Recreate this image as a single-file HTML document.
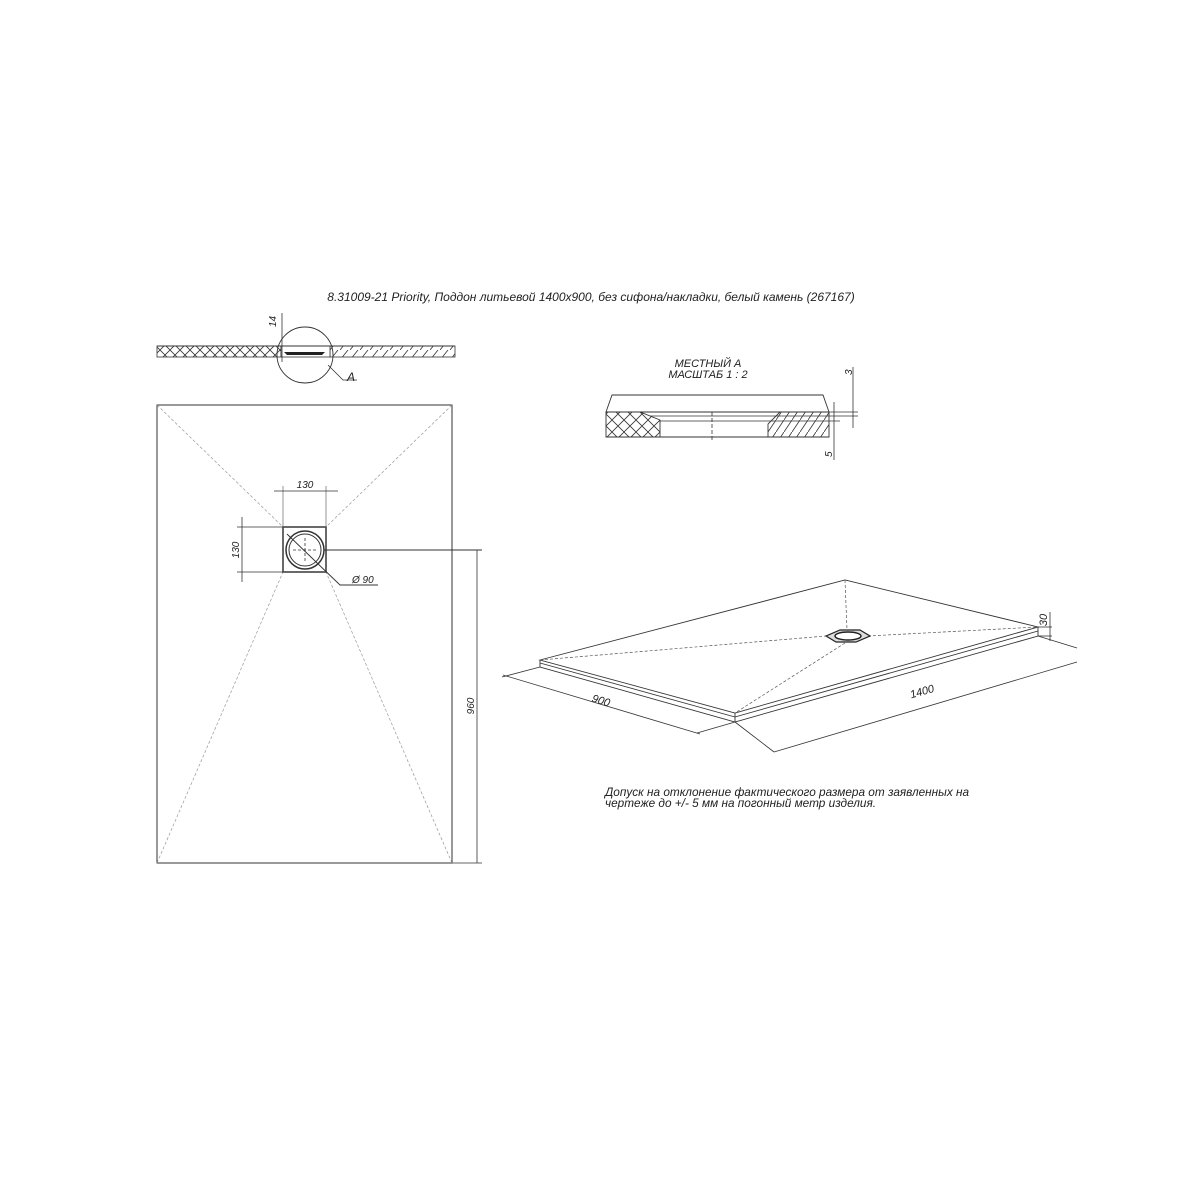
<!DOCTYPE html>
<html><head><meta charset="utf-8"><style>body{margin:0;background:#fff}svg{display:block}text{font-family:"Liberation Sans",sans-serif;font-style:italic;fill:#222}</style></head><body>
<svg width="1200" height="1200" viewBox="0 0 1200 1200" xmlns="http://www.w3.org/2000/svg">
<defs>
<pattern id="xh" width="10" height="10" patternUnits="userSpaceOnUse"><path d="M0 0L10 10M10 0L0 10" stroke="#333" stroke-width="0.8"/></pattern>
<pattern id="dh" width="10" height="10" patternUnits="userSpaceOnUse"><path d="M0 10L8 0" stroke="#333" stroke-width="0.8"/></pattern>
<pattern id="xh2" width="12" height="12" patternUnits="userSpaceOnUse"><path d="M0 0L12 12M12 0L0 12" stroke="#333" stroke-width="0.8"/></pattern>
<pattern id="dh2" width="8" height="12" patternUnits="userSpaceOnUse"><path d="M0 12L8 0" stroke="#333" stroke-width="0.8"/></pattern>
</defs>
<text x="591" y="301" font-size="12" text-anchor="middle">8.31009-21 Priority, Поддон литьевой 1400x900, без сифона/накладки, белый камень (267167)</text>
<!-- section -->
<rect x="157" y="346" width="124" height="11" fill="url(#xh)" stroke="#333" stroke-width="0.8"/>
<rect x="330" y="346" width="125" height="11" fill="url(#dh)" stroke="#333" stroke-width="0.8"/>
<rect x="281" y="346" width="49" height="11" fill="#fff" stroke="#333" stroke-width="0.8"/>
<line x1="157" y1="346" x2="455" y2="346" stroke="#333"/>
<path d="M284 352L325 352L322 355L287 355Z" fill="#222"/>
<circle cx="305" cy="355" r="28" fill="none" stroke="#333" stroke-width="0.9"/>
<line x1="282" y1="313" x2="282" y2="362" stroke="#333" stroke-width="0.8"/>
<text transform="translate(276,327) rotate(-90)" font-size="10">14</text>
<path d="M328 365L343 380L357 380" fill="none" stroke="#333" stroke-width="0.8"/>
<text x="347" y="381" font-size="12">A</text>
<!-- detail A -->
<text x="708" y="367" font-size="11" text-anchor="middle">МЕСТНЫЙ А</text>
<text x="708" y="378" font-size="11" text-anchor="middle">МАСШТАБ 1 : 2</text>
<path d="M612 395L823 395L829 412L606 412Z" fill="none" stroke="#333" stroke-width="0.9"/>
<path d="M606 412L640 412L660 420L660 437L606 437Z" fill="url(#xh2)" stroke="#333" stroke-width="0.9"/>
<path d="M780 412L829 412L829 437L768 437L768 424Z" fill="url(#dh2)" stroke="#333" stroke-width="0.9"/>
<line x1="660" y1="437" x2="768" y2="437" stroke="#333" stroke-width="0.9"/>
<line x1="638" y1="412" x2="858" y2="412" stroke="#333" stroke-width="0.8"/>
<line x1="650" y1="416" x2="858" y2="416" stroke="#333" stroke-width="0.8"/>
<line x1="660" y1="421" x2="840" y2="421" stroke="#333" stroke-width="0.8"/>
<line x1="712" y1="412" x2="712" y2="440" stroke="#333" stroke-width="0.8" stroke-dasharray="4,2"/>
<line x1="853" y1="367" x2="853" y2="428" stroke="#333" stroke-width="0.8"/>
<line x1="834" y1="402" x2="834" y2="460" stroke="#333" stroke-width="0.8"/>
<text transform="translate(852,375) rotate(-90)" font-size="10">3</text>
<text transform="translate(832,457) rotate(-90)" font-size="10">5</text>
<!-- plan -->
<rect x="157" y="405" width="295" height="458" fill="none" stroke="#333" stroke-width="1"/>
<g stroke="#999" stroke-width="0.7" stroke-dasharray="3,2">
<line x1="157" y1="405" x2="283" y2="527"/><line x1="452" y1="405" x2="326" y2="527"/>
<line x1="157" y1="863" x2="283" y2="572"/><line x1="452" y1="863" x2="326" y2="572"/>
</g>
<rect x="283" y="527" width="43" height="45" fill="none" stroke="#444" stroke-width="1.6"/>
<circle cx="305" cy="550" r="19" fill="none" stroke="#333" stroke-width="1.5"/>
<circle cx="305" cy="550" r="16" fill="none" stroke="#333" stroke-width="1"/>
<line x1="293" y1="550" x2="317" y2="550" stroke="#333" stroke-width="0.8" stroke-dasharray="3,2"/>
<line x1="305" y1="538" x2="305" y2="562" stroke="#333" stroke-width="0.8" stroke-dasharray="3,2"/>
<path d="M287 534L340 585L378 585" fill="none" stroke="#333" stroke-width="0.9"/>
<text x="352" y="583" font-size="10">Ø 90</text>
<line x1="283" y1="486" x2="283" y2="527" stroke="#666" stroke-width="0.7"/>
<line x1="326" y1="486" x2="326" y2="527" stroke="#666" stroke-width="0.7"/>
<line x1="274" y1="491" x2="338" y2="491" stroke="#333" stroke-width="0.8"/>
<text x="305" y="488" font-size="10" text-anchor="middle">130</text>
<line x1="237" y1="527" x2="283" y2="527" stroke="#333" stroke-width="0.8"/>
<line x1="237" y1="572" x2="283" y2="572" stroke="#333" stroke-width="0.8"/>
<line x1="242" y1="517" x2="242" y2="582" stroke="#333" stroke-width="0.8"/>
<text transform="translate(239,550) rotate(-90)" font-size="10" text-anchor="middle">130</text>
<line x1="324" y1="550" x2="482" y2="550" stroke="#333" stroke-width="0.9"/>
<line x1="452" y1="863" x2="482" y2="863" stroke="#333" stroke-width="0.8"/>
<line x1="477" y1="550" x2="477" y2="863" stroke="#333" stroke-width="0.8"/>
<text transform="translate(474,706) rotate(-90)" font-size="10" text-anchor="middle">960</text>
<!-- iso -->
<g fill="none" stroke="#333" stroke-width="0.9">
<path d="M540 660L845 580L1038 627L735 713Z"/>
<path d="M540 660L540 667L735 722L1038 636L1038 627"/>
<line x1="735" y1="713" x2="735" y2="722"/>
<line x1="540" y1="663" x2="735" y2="717"/>
<line x1="735" y1="717" x2="1038" y2="631"/>
</g>
<g stroke="#555" stroke-width="0.7" stroke-dasharray="3,2">
<line x1="540" y1="660" x2="826" y2="636"/><line x1="845" y1="580" x2="847" y2="630"/>
<line x1="868" y1="636" x2="1038" y2="627"/><line x1="845" y1="643" x2="735" y2="713"/>
</g>
<path d="M826 636L840 630L860 630L870 636L856 642L836 642Z" fill="#ddd" stroke="#222" stroke-width="1.2"/>
<ellipse cx="848" cy="636" rx="13" ry="4" fill="#fff" stroke="#222" stroke-width="1.5"/>
<g stroke="#333" stroke-width="0.8" fill="none">
<line x1="540" y1="667" x2="502" y2="677"/><line x1="735" y1="722" x2="697" y2="733"/>
<line x1="503" y1="675" x2="700" y2="734"/>
<line x1="735" y1="722" x2="774" y2="752"/><line x1="1038" y1="636" x2="1077" y2="648"/>
<line x1="774" y1="752" x2="1077" y2="662"/>
<line x1="1050" y1="612" x2="1050" y2="641"/>
<line x1="1038" y1="627" x2="1052" y2="627"/><line x1="1038" y1="636" x2="1052" y2="636"/>
</g>
<text transform="translate(600,704) rotate(17)" font-size="11" text-anchor="middle">900</text>
<text transform="translate(923,695) rotate(-16)" font-size="11" text-anchor="middle">1400</text>
<text transform="translate(1047,620) rotate(-90)" font-size="11" text-anchor="middle">30</text>
<text x="605" y="796" font-size="11.8">Допуск на отклонение фактического размера от заявленных на</text>
<text x="605" y="807" font-size="11.8">чертеже до +/- 5 мм на погонный метр изделия.</text>
</svg>
</body></html>
